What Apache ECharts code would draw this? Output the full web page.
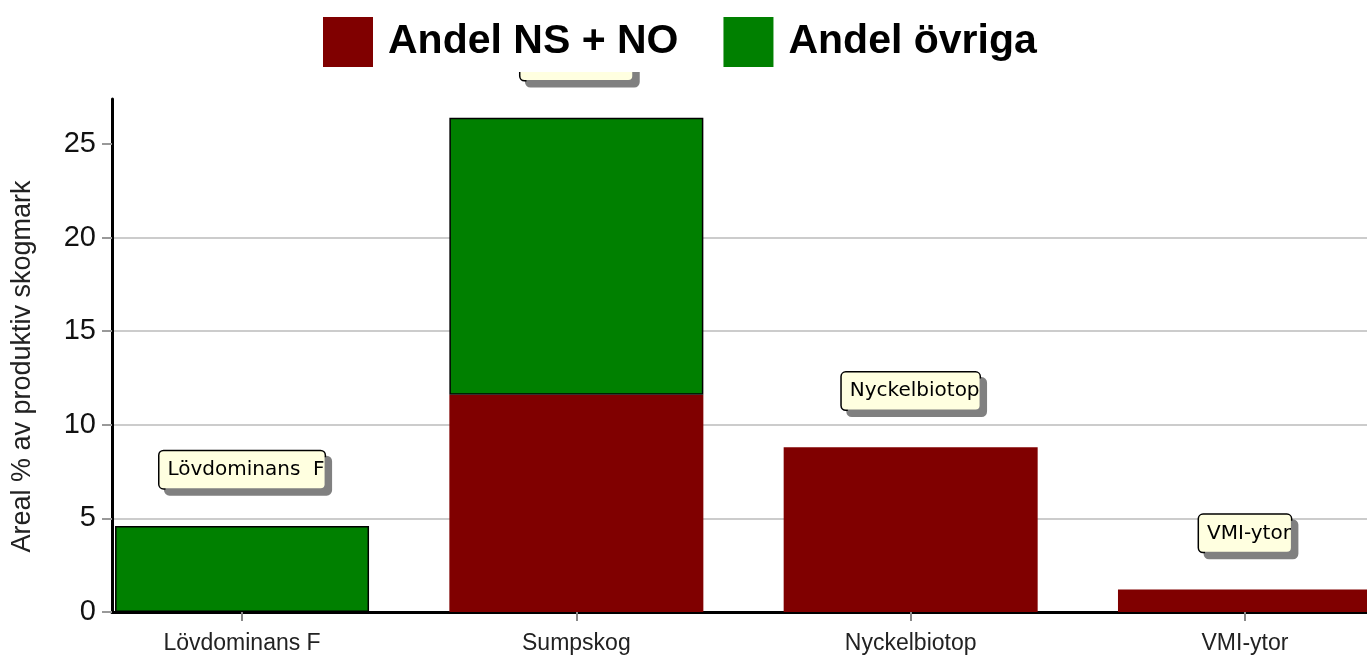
<!DOCTYPE html>
<html>
<head>
<meta charset="utf-8">
<script src="https://cdn.jsdelivr.net/npm/echarts@6/dist/echarts.min.js"></script>
<style>
  html, body { margin: 0; padding: 0; background: #fff; }
  #chart { width: 1367px; height: 655px; }
</style>
</head>
<body>
<div id="chart"></div>
<script>
// kategorier och värden (areal % av produktiv skogmark)
const categories = ["Lövdominans F", "Sumpskog", "Nyckelbiotop", "VMI-ytor"];
const boxLabels = ["Lövdominans  F", "Sumpskog", "Nyckelbiotop", "VMI-ytor"];
const andelNsNo = [null, 11.6, 8.8, 1.2];
const andelOvriga = [4.6, 14.8, null, null];
const yTicks = [0, 5, 10, 15, 20, 25];

// etikettrutan ligger 3 enheter över stapelns topp
const labelLift = 3;

const xPos = categories.map((c, i) => i + 1);
const totals = xPos.map((x, i) => (andelNsNo[i] || 0) + (andelOvriga[i] || 0));

const chart = echarts.init(document.getElementById("chart"));

// värdet först i varje punkt så att stack summerar y och inte x
const barEncode = { x: 1, y: 0 };

const option = {
  animation: false,
  backgroundColor: "#fff",
  legend: {
    top: 12,
    left: 318,
    z: 110,
    icon: "rect",
    itemWidth: 50,
    itemHeight: 50,
    itemGap: 45,
    selectedMode: false,
    itemStyle: { borderWidth: 0 },
    textStyle: {
      fontFamily: "Liberation Sans, Arial, sans-serif",
      fontSize: 41,
      fontWeight: "bold",
      color: "#000",
      padding: [0, 0, 8, 10],
    },
    data: ["Andel NS + NO", "Andel övriga"],
  },
  graphic: [
    {
      type: "rect",
      z: 100,
      shape: { x: 0, y: 0, width: 1367, height: 72 },
      style: { fill: "#fff" },
    },
  ],
  grid: {
    left: 112,
    right: 0,
    top: 99,
    bottom: 41,
  },
  xAxis: {
    type: "value",
    min: 0.611,
    max: 4.365,
    offset: 2,
    splitLine: { show: false },
    axisLine: { lineStyle: { color: "#000", width: 3 } },
    axisTick: {
      customValues: xPos,
      length: 9,
      lineStyle: { color: "#888", width: 2 },
    },
    axisLabel: {
      customValues: xPos,
      formatter: (v) => categories[Math.round(v) - 1] || "",
      fontFamily: "Liberation Sans Narrow, Arial Narrow, sans-serif",
      fontSize: 23,
      color: "#222",
      margin: 18,
    },
  },
  yAxis: {
    type: "value",
    min: 0,
    max: 27.4,
    interval: 5,
    name: "Areal % av produktiv skogmark",
    nameLocation: "middle",
    nameGap: 76,
    nameTextStyle: {
      fontFamily: "Liberation Sans, Arial, sans-serif",
      fontSize: 27,
      color: "#222",
      padding: [0, 22, 0, 0],
    },
    axisLine: { show: true, lineStyle: { color: "#000", width: 3 } },
    axisTick: {
      show: true,
      customValues: yTicks,
      length: 10,
      lineStyle: { color: "#999", width: 2 },
    },
    axisLabel: {
      customValues: yTicks,
      fontFamily: "Liberation Sans, Arial, sans-serif",
      fontSize: 29,
      color: "#111",
      margin: 16,
    },
    splitLine: {
      show: true,
      showMaxLine: false,
      lineStyle: { color: "#cccccc", width: 2 },
    },
  },
  series: [
    {
      name: "Andel NS + NO",
      type: "bar",
      stack: "andel",
      barWidth: 254,
      encode: barEncode,
      itemStyle: { color: "#800000" },
      data: xPos.map((x, i) => [andelNsNo[i], x]),
    },
    {
      name: "Andel övriga",
      type: "bar",
      stack: "andel",
      barWidth: 254,
      encode: barEncode,
      itemStyle: { color: "#008000", borderColor: "#000", borderWidth: 1.5 },
      data: xPos.map((x, i) => [andelOvriga[i], x]),
    },
    {
      // namnrutor ovanför staplarna
      name: "etiketter",
      type: "scatter",
      clip: false,
      symbolSize: 1,
      itemStyle: { color: "rgba(0,0,0,0)", opacity: 1 },
      label: {
        show: true,
        position: "inside",
        formatter: (p) => boxLabels[p.dataIndex],
        fontFamily: "DejaVu Sans, sans-serif",
        fontSize: 20,
        lineHeight: 20,
        color: "#000",
        opacity: 1,
        backgroundColor: "#ffffe0",
        borderColor: "#000",
        borderWidth: 1.5,
        borderRadius: 4,
        padding: [8, 0, 9, 8],
        shadowColor: "#808080",
        shadowBlur: 0,
        shadowOffsetX: 6,
        shadowOffsetY: 6,
      },
      data: xPos.map((x, i) => [x, totals[i] + labelLift]),
    },
  ],
};

chart.setOption(option);
</script>
</body>
</html>
